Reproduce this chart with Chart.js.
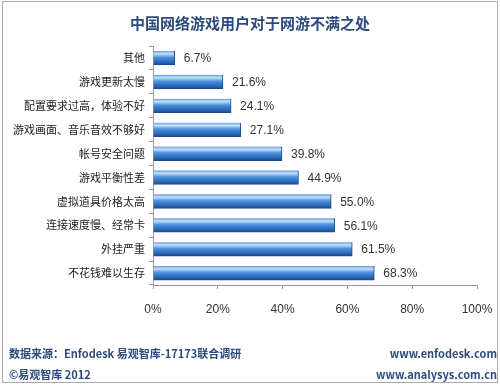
<!DOCTYPE html>
<html><head><meta charset="utf-8">
<script src="https://cdn.jsdelivr.net/npm/chart.js@4/dist/chart.umd.min.js"></script>
<style>
html,body{margin:0;padding:0;background:#fff;}
#wrap{position:relative;width:500px;height:386px;overflow:hidden;}
#frame{position:absolute;left:2px;top:1px;width:496px;height:382px;border:1px solid #a9a9a9;box-sizing:border-box;}
canvas{position:absolute;left:0;top:0;}
.t{position:absolute;font-family:"Noto Sans CJK SC","Noto Sans",sans-serif;font-weight:bold;color:#2e4a7c;white-space:nowrap;}
</style></head>
<body><div id="wrap">
<div id="frame"></div>
<canvas id="c" width="500" height="386"></canvas>
<div class="t" style="left:0;width:500px;top:12px;text-align:center;font-size:15px;line-height:22px;">中国网络游戏用户对于网游不满之处</div>
<div class="t" style="left:9px;top:345px;font-size:11px;line-height:16px;">数据来源：Enfodesk 易观智库-17173联合调研</div>
<div class="t" style="left:9px;top:366px;font-size:11px;line-height:16px;">©易观智库 2012</div>
<div class="t" style="right:3px;top:345px;font-size:11px;line-height:16px;text-align:right;">www.enfodesk.com</div>
<div class="t" style="right:3px;top:366px;font-size:11px;line-height:16px;text-align:right;">www.analysys.com.cn</div>
</div>
<script>
const categories = ["其他","游戏更新太慢","配置要求过高，体验不好","游戏画面、音乐音效不够好","帐号安全问题","游戏平衡性差","虚拟道具价格太高","连接速度慢、经常卡","外挂严重","不花钱难以生存"];
const values = [6.7,21.6,24.1,27.1,39.8,44.9,55.0,56.1,61.5,68.3];
const xTicks = [0,20,40,60,80,100];

function barFill(ctx){
  const chart = ctx.chart;
  const ys = chart.scales && chart.scales.y;
  if(!ys || ctx.dataIndex === undefined) return '#3a7fd0';
  const yc = ys.getPixelForValue(ctx.dataIndex);
  if(!isFinite(yc)) return '#3a7fd0';
  const h = 7;
  const g = chart.ctx.createLinearGradient(0, yc - h, 0, yc + h);
  g.addColorStop(0, '#5f9de0');
  g.addColorStop(0.2, '#c5e0fa');
  g.addColorStop(0.45, '#4f93e0');
  g.addColorStop(0.8, '#2a66b8');
  g.addColorStop(1, '#1d4a8a');
  return g;
}

const labelPlugin = {
  id:'valLabels',
  afterDatasetsDraw(chart){
    const c = chart.ctx;
    const meta = chart.getDatasetMeta(0);
    c.save();
    c.font = '12px "Liberation Sans","DejaVu Sans",sans-serif';
    c.fillStyle = '#333';
    c.textBaseline = 'middle';
    c.textAlign = 'left';
    meta.data.forEach((el,i)=>{
      c.fillText(values[i].toFixed(1)+'%', el.x + 9, el.y + 1);
    });
    c.restore();
  }
};

new Chart(document.getElementById('c'), {
  type:'bar',
  data:{labels:categories, datasets:[{data:values, backgroundColor:barFill, borderColor:'#1d4a8a', borderWidth:{top:0,bottom:1,left:0,right:1}, barThickness:14, borderSkipped:'left'}]},
  options:{
    indexAxis:'y', responsive:false, animation:false,
    layout:{padding:{left:0,right:23,top:46,bottom:61}},
    plugins:{legend:{display:false}, tooltip:{enabled:false}},
    scales:{
      x:{min:0,max:100,
        afterBuildTicks(a){a.ticks = xTicks.map(v=>({value:v}));},
        afterFit(a){a.height = 40; a.paddingLeft = 0; a.paddingRight = 0;},
        ticks:{callback:v=>v+'%', padding:13, color:'#333', font:{family:'"Liberation Sans","DejaVu Sans",sans-serif', size:12}},
        grid:{drawOnChartArea:false, tickLength:4, color:'#999'},
        border:{color:'#999'}
      },
      y:{
        afterFit(a){a.width = 153; a.paddingTop = 0; a.paddingBottom = 0;},
        ticks:{padding:4, color:'#222', font:{family:'"Noto Sans CJK SC",sans-serif', size:11}, autoSkip:false},
        grid:{drawOnChartArea:false, tickLength:4, offset:true, color:'#999'},
        border:{color:'#999'}
      }
    }
  },
  plugins:[labelPlugin]
});
</script>
</body></html>
